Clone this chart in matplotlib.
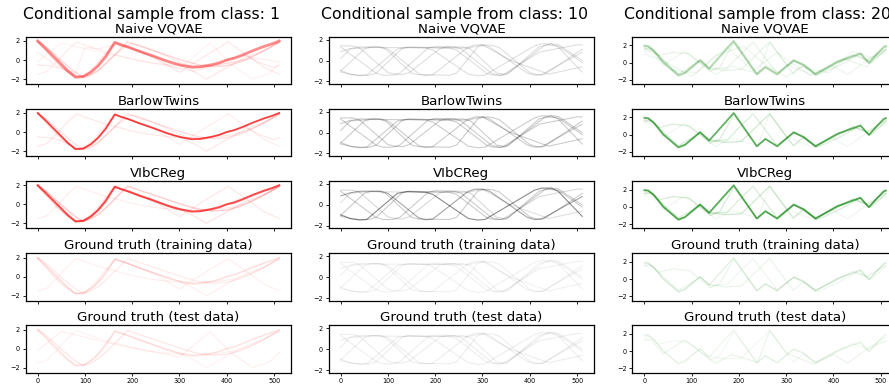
import matplotlib
matplotlib.use("Agg")
import matplotlib.pyplot as plt

# ---------------- data ----------------
classes = [1, 10, 20]
row_titles = ["Naive VQVAE", "BarlowTwins", "VIbCReg",
              "Ground truth (training data)", "Ground truth (test data)"]
xticks = [0, 100, 200, 300, 400, 500]
yticks = [-2, 0, 2]

# class 1 (red) curves: time steps and values
r_main_t = [0, 16, 32, 48, 64, 80, 96, 112, 128, 144, 163, 176, 192, 216, 240, 256, 272, 288, 304,
            326, 344, 368, 384, 400, 416, 432, 456, 480, 496, 511]
r_main_v = [2.0, 1.25, 0.45, -0.35, -1.15, -1.8, -1.75, -1.3, -0.6, 0.35, 1.85, 1.6, 1.35, 0.9, 0.5,
            0.2, -0.1, -0.35, -0.55, -0.76, -0.72, -0.5, -0.3, 0.0, 0.2, 0.5, 1.0, 1.45, 1.7, 2.0]
r_late_t = [0, 20, 40, 60, 80, 95, 110, 130, 150, 170, 190, 220, 250, 280, 310, 340, 370, 400, 430,
            460, 490, 511]
r_late_v = [2.0, 1.3, 0.4, -0.5, -1.3, -1.75, -1.6, -1.0, -0.1, 0.9, 1.9, 1.4, 0.9, 0.4, -0.1, -0.5,
            -0.7, -0.6, -0.2, 0.5, 1.3, 1.9]
r_early_t = [0, 20, 40, 60, 82, 110, 140, 170, 200, 230, 260, 290, 320, 350, 380, 410, 440, 470, 511]
r_early_v = [-1.5, -1.2, -0.2, 0.9, 1.9, 1.4, 0.9, 0.5, 0.1, -0.2, -0.4, -0.55, -0.6, -0.6, -0.5,
             -0.3, 0.1, 0.7, 1.9]
r_bump_t = [0, 20, 40, 60, 80, 100, 120, 140, 165, 190, 220, 250, 300, 350, 403, 440, 480, 511]
r_bump_v = [1.9, 0.8, -0.3, -1.2, -1.8, -1.6, -0.7, 0.5, 1.9, 1.4, 0.8, 0.2, -1.3, 0.3, 1.9, 0.6,
            -0.8, -1.5]
r_dip_t = [0, 20, 40, 60, 80, 100, 120, 140, 165, 190, 220, 250, 290, 330, 357, 400, 440, 480, 511]
r_dip_v = [1.9, 0.9, -0.2, -1.1, -1.75, -1.7, -1.0, 0.3, 1.8, 1.4, 0.8, 0.3, -0.3, -1.2, -2.0, -0.8,
           0.3, 1.0, 1.8]
r_flat_t = [0, 25, 50, 75, 100, 125, 150, 175, 200, 230, 260, 290, 320, 350, 380, 410, 440, 470,
            500, 511]
r_flat_v = [-0.5, -0.6, -0.9, -1.5, -1.9, -1.3, 0.0, 1.0, 1.8, 1.3, 0.7, 0.0, -0.6, -0.8, -0.4, 0.2,
            0.5, -0.3, -0.8, -0.6]
r_test_t = [0, 50, 100, 150, 200, 250, 300, 365, 410, 455, 490, 511]
r_test_v = [-0.2, 1.8, 1.2, 0.6, 0.1, -0.4, -0.9, 1.8, -0.5, -2.0, -1.4, -0.4]
r_noisy_t = [0, 40, 80, 100, 130, 165, 220, 270, 330, 400, 460, 511]
r_noisy_v = [0.8, -0.6, -1.4, 1.3, 1.2, 1.6, 0.9, -0.5, -1.2, -0.3, 0.2, -0.2]

# class 10 (grey) curves
k1_t = [0, 20, 40, 55, 120, 140, 180, 195, 270, 290, 305, 410, 425, 445, 460, 511]
k1_v = [-0.95, -1.3, -1.45, -1.4, 1.1, 1.27, 1.2, 1.0, -1.3, -1.45, -1.4, 1.4, 1.6, 1.6, 1.3, -1.1]
k2_t = [0, 20, 40, 85, 100, 165, 180, 195, 270, 285, 300, 315, 395, 410, 425, 511]
k2_v = [0.85, 1.15, 1.3, 1.3, 1.1, -1.25, -1.43, -1.35, 1.3, 1.5, 1.5, 1.3, -1.2, -1.4, -1.35, 0.8]
k3_t = [0, 50, 65, 80, 95, 150, 165, 230, 245, 290, 305, 320, 335, 400, 415, 430, 511]
k3_v = [-1.0, 1.1, 1.3, 1.3, 1.1, -1.2, -1.35, -1.4, -1.2, 1.3, 1.5, 1.45, 1.25, -1.15, -1.35, -1.35,
        1.1]
k4_t = [0, 75, 90, 110, 125, 185, 200, 240, 255, 320, 335, 350, 430, 445, 460, 511]
k4_v = [1.3, -1.2, -1.4, -1.4, -1.2, 1.2, 1.35, 1.3, 1.1, -1.25, -1.4, -1.35, 1.4, 1.6, 1.55, 0.0]
k5_t = [0, 20, 60, 270, 300, 360, 440, 511]
k5_v = [0.2, 1.1, 1.25, 1.2, 1.5, 0.0, -1.3, -0.6]
k6_t = [0, 25, 40, 60, 75, 130, 145, 230, 245, 310, 325, 340, 355, 420, 435, 460, 511]
k6_v = [-1.1, -1.35, -1.4, -1.4, -1.2, 1.15, 1.3, 1.2, 1.0, -1.25, -1.4, -1.4, -1.2, 1.3, 1.5, 1.4,
        -0.2]
k7_t = [0, 25, 40, 100, 115, 130, 145, 210, 225, 260, 275, 330, 345, 420, 500, 511]
k7_v = [1.4, 1.4, 1.2, -1.15, -1.3, -1.35, -1.15, 1.15, 1.3, 1.3, 1.1, -1.2, -1.3, 0.8, 1.5, 1.5]

# class 20 (green) curves
g_main_t = [0, 8, 20, 40, 72, 86, 118, 137, 189, 238, 256, 281, 316, 337, 362, 408, 457, 475, 493,
            507, 511]
g_main_v = [1.95, 1.9, 1.4, 0.0, -1.5, -1.2, 0.27, -0.7, 2.5, -1.37, -0.5, -1.37, 0.27, -0.3, -1.37,
            0.08, 1.06, -0.04, 1.06, 1.84, 1.9]
g_late_t = [0, 8, 20, 40, 72, 86, 118, 137, 170, 205, 265, 315, 337, 362, 408, 457, 475, 493, 507,
            511]
g_late_v = [1.8, 1.85, 1.3, 0.1, -1.4, -1.1, 0.3, -0.6, -0.9, -0.8, 2.4, -1.3, -0.3, -1.3, 0.0, 1.0,
            -0.1, 1.0, 1.7, 1.8]
g_plat_t = [0, 10, 30, 60, 95, 140, 160, 189, 238, 256, 281, 316, 337, 362, 400, 440, 470, 490, 511]
g_plat_v = [1.6, 1.7, 0.8, 1.2, 1.0, -1.0, -0.5, 2.3, -1.3, -0.6, -1.3, 0.2, -0.2, -1.3, -0.3, 0.9,
            0.3, 0.9, 1.6]
g_mid_t = [0, 15, 40, 72, 118, 140, 175, 230, 280, 316, 337, 365, 410, 450, 480, 511]
g_mid_v = [1.5, 1.6, 0.3, -1.3, 0.2, -0.8, -0.6, 2.4, -1.2, 0.2, -0.4, -1.5, -0.4, 0.8, 0.0, 1.5]
g_test_t = [0, 15, 40, 85, 150, 185, 240, 265, 300, 330, 360, 400, 430, 470, 511]
g_test_v = [1.3, 1.3, -0.3, 1.3, -1.4, -0.4, -1.3, 2.4, -0.2, -0.9, -1.5, -0.4, -1.4, 0.2, 1.2]
g_v1_t = [0, 40, 100, 175, 230, 280, 350, 420, 470, 511]
g_v1_v = [1.0, 0.2, -1.6, 1.8, -1.0, 1.2, -1.5, 0.5, -0.5, 1.5]
g_v2_t = [0, 30, 60, 110, 150, 210, 250, 300, 330, 390, 440, 480, 511]
g_v2_v = [1.7, 0.9, -0.9, -1.2, 0.8, 1.9, 0.0, -1.7, -0.5, -1.2, 1.3, 0.6, 1.4]

red = {"main": (r_main_t, r_main_v), "late": (r_late_t, r_late_v), "early": (r_early_t, r_early_v),
       "bump": (r_bump_t, r_bump_v), "dip": (r_dip_t, r_dip_v), "flat": (r_flat_t, r_flat_v),
       "test": (r_test_t, r_test_v), "noisy": (r_noisy_t, r_noisy_v)}
grey = {"k1": (k1_t, k1_v), "k2": (k2_t, k2_v), "k3": (k3_t, k3_v), "k4": (k4_t, k4_v),
        "k5": (k5_t, k5_v), "k6": (k6_t, k6_v), "k7": (k7_t, k7_v)}
green = {"main": (g_main_t, g_main_v), "late": (g_late_t, g_late_v), "plat": (g_plat_t, g_plat_v),
         "mid": (g_mid_t, g_mid_v), "test": (g_test_t, g_test_v), "v1": (g_v1_t, g_v1_v),
         "v2": (g_v2_t, g_v2_v)}

# ---------------- styles: (curve, alpha, linewidth) per panel ----------------
red_style = [
    [("main", 0.45, 2.0), ("late", 0.15, 1.0), ("early", 0.08, 0.8), ("bump", 0.1, 0.8),
     ("dip", 0.1, 0.8), ("flat", 0.1, 0.8), ("test", 0.06, 0.8), ("noisy", 0.08, 0.8)],
    [("main", 0.75, 1.3), ("late", 0.12, 1.0), ("early", 0.1, 0.8), ("flat", 0.1, 0.8),
     ("bump", 0.08, 0.8), ("dip", 0.1, 0.8)],
    [("main", 0.7, 1.5), ("late", 0.2, 1.0), ("dip", 0.12, 0.8), ("bump", 0.1, 0.8),
     ("early", 0.08, 0.8)],
    [("main", 0.13, 1.1), ("late", 0.09, 0.8), ("early", 0.07, 0.8), ("bump", 0.07, 0.8),
     ("dip", 0.07, 0.8)],
    [("main", 0.11, 1.1), ("late", 0.11, 0.8), ("early", 0.06, 0.8), ("test", 0.07, 0.8),
     ("dip", 0.06, 0.8)],
]
grey_style = [
    [(k, 0.13, 0.8) for k in grey],
    [(k, 0.2, 0.8) for k in grey],
    [("k1", 0.45, 0.8), ("k2", 0.35, 0.8), ("k3", 0.2, 0.8), ("k4", 0.2, 0.8), ("k5", 0.12, 0.8),
     ("k6", 0.2, 0.8), ("k7", 0.15, 0.8)],
    [(k, 0.06, 0.8) for k in grey],
    [(k, 0.07, 0.8) for k in grey],
]
green_style = [
    [("main", 0.28, 1.6), ("late", 0.1, 0.8), ("plat", 0.1, 0.8), ("mid", 0.1, 0.8),
     ("test", 0.08, 0.8), ("v1", 0.08, 0.8), ("v2", 0.08, 0.8)],
    [("main", 0.6, 1.3), ("late", 0.18, 0.9), ("plat", 0.14, 0.9), ("mid", 0.14, 0.9),
     ("test", 0.07, 0.8)],
    [("main", 0.65, 1.3), ("late", 0.18, 0.9), ("plat", 0.16, 0.9), ("mid", 0.14, 0.9),
     ("test", 0.07, 0.8)],
    [("main", 0.12, 0.9), ("late", 0.09, 0.8), ("plat", 0.09, 0.8), ("mid", 0.07, 0.8)],
    [("main", 0.07, 0.9), ("late", 0.06, 0.8), ("plat", 0.06, 0.8), ("test", 0.09, 0.8)],
]

columns = [(red, red_style, "red", (-2.53, 2.45)),
           (grey, grey_style, "k", (-2.25, 2.28)),
           (green, green_style, "green", (-2.5, 3.0))]

# ---------------- layout (pixels of a 889x387 canvas) ----------------
W, H = 889, 387
col_left = [25.6, 328.6, 632.3]
col_w = 265.7
row_top = [36.7, 108.7, 181.0, 253.3, 325.3]
row_h = 47.4
col_title_x = [151.5, 454.5, 757.5]

fig = plt.figure(figsize=(W / 100, H / 100), dpi=100)

for c, (curves, style, color, ylim) in enumerate(columns):
    fig.text(col_title_x[c] / W, 1 - 19.5 / H, f"Conditional sample from class: {classes[c]}",
             ha="center", va="baseline", fontsize=11.3)
    for r in range(5):
        ax = fig.add_axes([col_left[c] / W, 1 - (row_top[r] + row_h) / H, col_w / W, row_h / H])
        for name, a, lw in style[r]:
            t, v = curves[name]
            ax.plot(t, v, color=color, alpha=a, lw=lw)
        ax.set_xlim(-25.55, 536.55)
        ax.set_ylim(*ylim)
        ax.set_xticks(xticks)
        ax.set_yticks(yticks)
        ax.tick_params(labelsize=4.7, length=2.5, width=0.6, pad=1.5)
        if r < 4:
            ax.set_xticklabels([])
        ax.set_title(row_titles[r], fontsize=9.6, pad=3)
        for s in ax.spines.values():
            s.set_linewidth(0.9)

fig.savefig("out.png", dpi=100)
